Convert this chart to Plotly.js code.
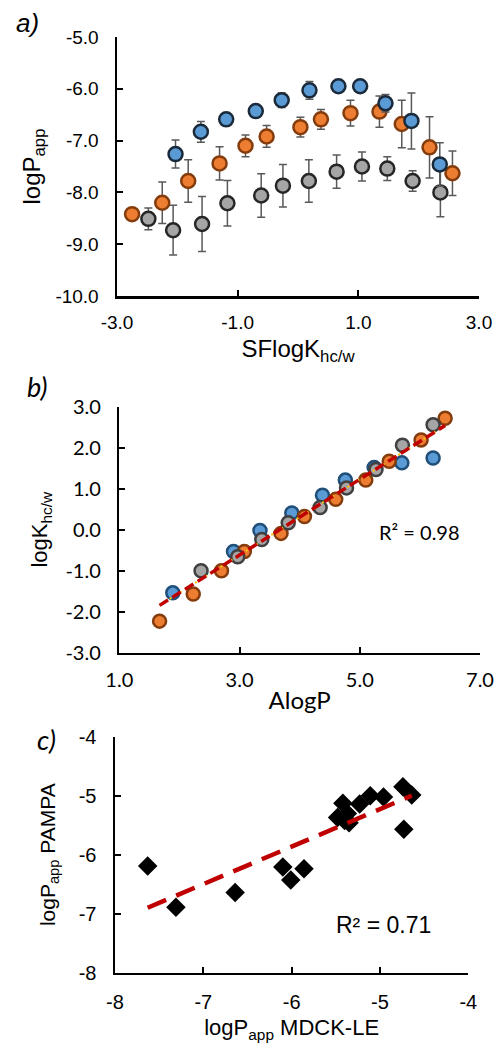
<!DOCTYPE html>
<html>
<head>
<meta charset="utf-8">
<script src="https://cdn.plot.ly/plotly-3.0.1.min.js"></script>
<style>html,body{margin:0;padding:0;background:#fff;}#chart{width:499px;height:1048px;}</style>
</head>
<body>
<div id="chart"></div>
<script>
// ---------- Panel a data ----------
const aBlueX   = [-2.03,-1.61,-1.19,-0.70,-0.27,0.19,0.67,1.03,1.45,1.88,2.35];
const aBlueY   = [-7.26,-6.83,-6.59,-6.43,-6.22,-6.03,-5.95,-5.95,-6.28,-6.62,-7.46];
const aBlueErr = [0.27,0.20,0.06,0.05,0.14,0.17,0.04,0.04,0.17,0.54,0.42];
const aOrangeX   = [-2.75,-2.25,-1.82,-1.30,-0.87,-0.52,0.04,0.38,0.87,1.35,1.72,2.18,2.56];
const aOrangeY   = [-8.42,-8.20,-7.78,-7.44,-7.10,-6.92,-6.74,-6.59,-6.47,-6.44,-6.68,-7.13,-7.63];
const aOrangeErr = [0,0.40,0.41,0.32,0.21,0.21,0.19,0.19,0.25,0.30,0.46,0.59,0.43];
const aGrayX   = [-2.48,-2.07,-1.59,-1.17,-0.61,-0.25,0.18,0.64,1.06,1.48,1.90,2.36];
const aGrayY   = [-8.51,-8.73,-8.61,-8.21,-8.06,-7.87,-7.78,-7.60,-7.50,-7.54,-7.78,-8.00];
const aGrayErr = [0.21,0.48,0.53,0.44,0.42,0.41,0.41,0.32,0.28,0.23,0.20,0.47];
const aXTickVals = [-3,-1,1,3];
const aXTickText = ['-3.0','-1.0','1.0','3.0'];
const aYTickVals = [-10,-9,-8,-7,-6,-5];
const aYTickText = ['-10.0','-9.0','-8.0','-7.0','-6.0','-5.0'];

// ---------- Panel b data ----------
const bBlueX   = [1.89,2.90,3.34,3.87,4.38,4.76,5.24,5.70,6.22];
const bBlueY   = [-1.54,-0.53,-0.02,0.41,0.84,1.21,1.52,1.63,1.75];
const bGrayX   = [2.36,2.97,3.37,3.81,4.34,4.78,5.27,5.71,6.22];
const bGrayY   = [-1.00,-0.66,-0.24,0.17,0.54,1.02,1.47,2.06,2.56];
const bOrangeX = [1.67,2.23,2.70,3.08,3.69,4.08,4.60,5.10,5.49,6.02,6.42];
const bOrangeY = [-2.23,-1.57,-1.00,-0.53,-0.09,0.32,0.74,1.21,1.67,2.19,2.72];
const bR2Label = "R² = 0.98";
const bXTickVals = [1,3,5,7];
const bXTickText = ['1.0','3.0','5.0','7.0'];
const bYTickVals = [-3,-2,-1,0,1,2,3];
const bYTickText = ['-3.0','-2.0','-1.0','0.0','1.0','2.0','3.0'];

// ---------- Panel c data ----------
const cX = [-7.63,-7.31,-6.64,-6.10,-6.01,-5.86,-5.48,-5.42,-5.40,-5.37,-5.35,-5.23,-5.11,-4.96,-4.74,-4.64,-4.73];
const cY = [-6.19,-6.89,-6.64,-6.21,-6.43,-6.24,-5.37,-5.13,-5.42,-5.30,-5.46,-5.14,-5.00,-5.02,-4.85,-4.99,-5.57];
const cR2Label = "R² = 0.71";
const cXTickVals = [-8,-7,-6,-5,-4];
const cXTickText = ['-8','-7','-6','-5','-4'];
const cYTickVals = [-8,-7,-6,-5,-4];
const cYTickText = ['-8','-7','-6','-5','-4'];

// linear least squares fit line across the data range
function fitLine(xs, ys) {
  const n = xs.length;
  const mx = xs.reduce((s,v)=>s+v,0)/n, my = ys.reduce((s,v)=>s+v,0)/n;
  let sxy=0, sxx=0;
  for (let i=0;i<n;i++){ sxy+=(xs[i]-mx)*(ys[i]-my); sxx+=(xs[i]-mx)*(xs[i]-mx); }
  const m = sxy/sxx, b = my - m*mx;
  const x0 = Math.min(...xs), x1 = Math.max(...xs);
  return {x:[x0,x1], y:[m*x0+b, m*x1+b]};
}
const bAllX = bBlueX.concat(bGrayX, bOrangeX);
const bAllY = bBlueY.concat(bGrayY, bOrangeY);
const bFit = fitLine(bAllX, bAllY);
const cFit = fitLine(cX, cY);

const W = 499, H = 1048;
const px = v => v / W;
const py = v => 1 - v / H;

const BLUE = '#5B9BD5', ORANGE = '#ED7D31', GRAY = '#A5A5A5';
const ARIAL = 'Liberation Sans, Arial, sans-serif';
const CAL = 'Lato, Carlito, Calibri, sans-serif';

function err(arr){ return {type:'data', array:arr, visible:true, color:'#595959', thickness:1.5, width:4}; }

const traces = [
  {x:aGrayX, y:aGrayY, error_y:err(aGrayErr), mode:'markers', type:'scatter', xaxis:'x', yaxis:'y',
   marker:{size:14, color:GRAY, line:{color:'#262626', width:2.5}}, cliponaxis:false},
  {x:aOrangeX, y:aOrangeY, error_y:err(aOrangeErr), mode:'markers', type:'scatter', xaxis:'x', yaxis:'y',
   marker:{size:14, color:ORANGE, line:{color:'#843C0C', width:2.5}}, cliponaxis:false},
  {x:aBlueX, y:aBlueY, error_y:err(aBlueErr), mode:'markers', type:'scatter', xaxis:'x', yaxis:'y',
   marker:{size:14, color:BLUE, line:{color:'#1B2A3A', width:2.5}}, cliponaxis:false},

  {x:bBlueX, y:bBlueY, mode:'markers', type:'scatter', xaxis:'x2', yaxis:'y2',
   marker:{size:13, color:BLUE, line:{color:'#1F4E79', width:2.5}}, cliponaxis:false},
  {x:bOrangeX, y:bOrangeY, mode:'markers', type:'scatter', xaxis:'x2', yaxis:'y2',
   marker:{size:13, color:ORANGE, line:{color:'#843C0C', width:2.5}}, cliponaxis:false},
  {x:bGrayX, y:bGrayY, mode:'markers', type:'scatter', xaxis:'x2', yaxis:'y2',
   marker:{size:13, color:GRAY, line:{color:'#404040', width:2.5}}, cliponaxis:false},
  {x:bFit.x, y:bFit.y, mode:'lines', type:'scatter', xaxis:'x2', yaxis:'y2',
   line:{color:'#FFC000', width:2, dash:'2px,4px'}},
  {x:bFit.x, y:bFit.y, mode:'lines', type:'scatter', xaxis:'x2', yaxis:'y2',
   line:{color:'#C00000', width:3.5, dash:'10px,5px'}},

  {x:cX, y:cY, mode:'markers', type:'scatter', xaxis:'x3', yaxis:'y3',
   marker:{symbol:'diamond', size:15, color:'#000000'}, cliponaxis:false},
  {x:cFit.x, y:cFit.y, mode:'lines', type:'scatter', xaxis:'x3', yaxis:'y3',
   line:{color:'#C00000', width:4.5, dash:'20px,11px'}}
];

function axis(extra){
  return Object.assign({
    showline:true, linecolor:'#000', linewidth:2.5, mirror:false,
    ticks:'inside', ticklen:6, tickwidth:2, tickcolor:'#000', tickmode:'array',
    showgrid:false, zeroline:false, fixedrange:true
  }, extra);
}

const layout = {
  width:W, height:H, margin:{l:0,r:0,t:0,b:0},
  paper_bgcolor:'#fff', plot_bgcolor:'rgba(0,0,0,0)', showlegend:false,
  xaxis: axis({domain:[px(117),px(479)], anchor:'y', range:[-3,3], tickvals:aXTickVals, ticktext:aXTickText,
    tickfont:{family:ARIAL, size:19, color:'#000'}, ticklabelstandoff:8,
    title:{text:'SFlogK<sub>hc/w</sub>', font:{family:ARIAL, size:24, color:'#000'}, standoff:8}}),
  yaxis: axis({domain:[py(296),py(37)], anchor:'x', range:[-10,-5], tickvals:aYTickVals, ticktext:aYTickText,
    tickfont:{family:ARIAL, size:19, color:'#000'}, ticklabelstandoff:12,
    title:{text:'logP<sub>app</sub>', font:{family:ARIAL, size:24, color:'#000'}, standoff:8}}),

  xaxis2: axis({domain:[px(119.3),px(480)], anchor:'y2', range:[1,7], tickvals:bXTickVals, ticktext:bXTickText,
    tickfont:{family:CAL, size:20, color:'#000'}, ticklabelstandoff:8,
    title:{text:'AlogP', font:{family:CAL, size:24, color:'#000'}, standoff:2}}),
  yaxis2: axis({domain:[py(652.7),py(406.7)], anchor:'x2', range:[-3,3], tickvals:bYTickVals, ticktext:bYTickText,
    tickfont:{family:CAL, size:20, color:'#000'}, ticklabelstandoff:12,
    title:{text:'logK<sub>hc/w</sub>', font:{family:ARIAL, size:22, color:'#000'}, standoff:12}}),

  xaxis3: axis({domain:[px(115),px(468.3)], anchor:'y3', range:[-8,-4], tickvals:cXTickVals, ticktext:cXTickText,
    tickfont:{family:ARIAL, size:20, color:'#000'}, ticklabelstandoff:10,
    title:{text:'logP<sub>app</sub> MDCK-LE', font:{family:ARIAL, size:22, color:'#000'}, standoff:8}}),
  yaxis3: axis({domain:[py(972.7),py(736.7)], anchor:'x3', range:[-8,-4], tickvals:cYTickVals, ticktext:cYTickText,
    tickfont:{family:ARIAL, size:20, color:'#000'}, ticklabelstandoff:12,
    title:{text:'logP<sub>app</sub> PAMPA', font:{family:ARIAL, size:21, color:'#000'}, standoff:18}}),

  annotations: [
    {text:'<i>a)</i>', xref:'paper', yref:'paper', x:px(27), y:py(23), xanchor:'center', yanchor:'middle', showarrow:false,
     font:{family:ARIAL, size:26, color:'#000'}},
    {text:'<i>b)</i>', xref:'paper', yref:'paper', x:px(37), y:py(386), xanchor:'center', yanchor:'middle', showarrow:false,
     font:{family:CAL, size:27, color:'#000'}},
    {text:'<i>c)</i>', xref:'paper', yref:'paper', x:px(46), y:py(739), xanchor:'center', yanchor:'middle', showarrow:false,
     font:{family:CAL, size:27, color:'#000'}},
    {text:bR2Label, xref:'paper', yref:'paper', x:px(419), y:py(532), xanchor:'center', yanchor:'middle', showarrow:false,
     font:{family:CAL, size:20, color:'#000'}},
    {text:cR2Label, xref:'paper', yref:'paper', x:px(383), y:py(925), xanchor:'center', yanchor:'middle', showarrow:false,
     font:{family:ARIAL, size:23, color:'#000'}}
  ]
};

Plotly.newPlot('chart', traces, layout, {staticPlot:true, displayModeBar:false});
</script>
</body>
</html>
